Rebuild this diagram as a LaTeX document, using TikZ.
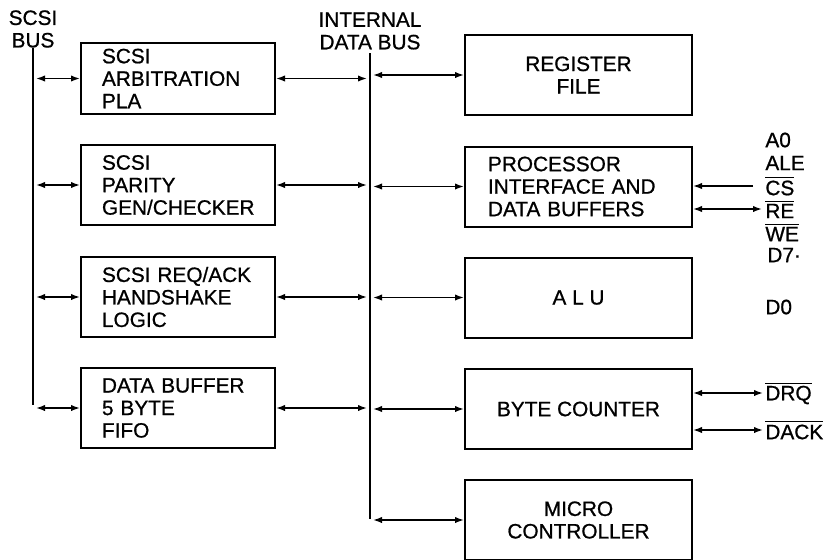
\documentclass[tikz,border=0pt]{standalone}
\usepackage{fontspec}
\setmainfont{Liberation Sans}[UprightFeatures={FakeBold=0.8}]
\usetikzlibrary{arrows.meta,positioning}

\begin{document}
\begin{tikzpicture}[x=0.5pt,y=-0.5pt,
  font=\fontsize{10.4}{11.25}\selectfont,
  lbox/.style={draw, line width=1pt, minimum width=97pt, minimum height=40pt, text width=76pt, inner xsep=10.5pt, inner ysep=0pt, align=left},
  rbox/.style={draw, line width=1pt, minimum width=113.5pt, minimum height=40pt, inner ysep=0pt, align=center},
  bus/.style={line width=1pt},
  arr/.style={{Latex[length=4.5pt,width=3.2pt]}-{Latex[length=4.5pt,width=3.2pt]}, line width=0.8pt},
  arrto/.style={-{Latex[length=4.5pt,width=3.2pt]}, line width=0.8pt},
  sig/.style={anchor=west, inner sep=0pt}]
\useasboundingbox (0,0) rectangle (824,559);

\node[align=center, inner sep=0pt] (scsibus) at (33,29) {SCSI\\BUS};
\node[align=center, inner sep=0pt] (intbus) at (370,31) {INTERNAL\\DATA BUS};
\coordinate (sbot) at (33,405);
\coordinate (ibtop) at (370,53);
\coordinate (ibbot) at (370,519);
\draw[bus] (scsibus.south) -- (sbot);
\draw[bus] (ibtop) -- (ibbot);

\node[lbox, minimum height=35.5pt] (arb) at (178,78.5) {SCSI\\ARBITRATION\\PLA};
\node[lbox] (par) at (178,185) {SCSI\\PARITY\\GEN/CHECKER};
\node[lbox] (hs) at (178,297) {SCSI REQ/ACK\\HANDSHAKE\\LOGIC};
\node[lbox] (fifo) at (178,408) {DATA BUFFER\\5 BYTE\\FIFO};

\node[rbox] (reg) at (578.5,75) {REGISTER\\FILE};
\node[rbox, align=left, text width=90.5pt, inner xsep=11.5pt] (proc) at (578.5,186.5) {PROCESSOR\\INTERFACE AND\\DATA BUFFERS};
\node[rbox] (alu) at (578.5,297.5) {A L U};
\node[rbox] (bc) at (578.5,409) {BYTE COUNTER};
\node[rbox] (mc) at (578.5,520) {MICRO\\CONTROLLER};

\foreach \b in {arb,par,hs,fifo} {
  \draw[arr, shorten <=1.5pt] (sbot |- \b.west) -- (\b.west);
  \draw[arr, shorten >=1.5pt] (\b.east) -- (ibtop |- \b.east);
}
\foreach \b in {reg,proc,alu,bc,mc}
  \draw[arr, shorten <=1.5pt] (ibtop |- \b.west) -- (\b.west);

\node[sig] (a0) at (765,140) {A0};
\node[sig] (ale) at (765,163) {ALE};
\node[sig] (cs) at (765,186) {$\overline{\hbox{CS}}$};
\node[sig] (re) at (765,209) {$\overline{\hbox{RE}}$};
\node[sig] (we) at (765,232) {$\overline{\hbox{WE}}$};
\node[sig] (d7) at (767,255) {D7·};
\node[sig] (d0) at (765,307) {D0};
\node[sig] (drq) at (765,393) {$\overline{\hbox{DRQ}}$};
\node[sig] (dack) at (765,430) {$\overline{\hbox{DACK}}$};

\draw[arrto, shorten <=6pt] (cs.west) -- (proc.east |- cs.west);
\draw[arr, shorten >=1.5pt] (proc.east |- re.west) -- (re.west);
\draw[arr, shorten >=1pt] (bc.east |- drq.west) -- (drq.west);
\draw[arr, shorten >=1pt] (bc.east |- dack.west) -- (dack.west);
\end{tikzpicture}
\end{document}
